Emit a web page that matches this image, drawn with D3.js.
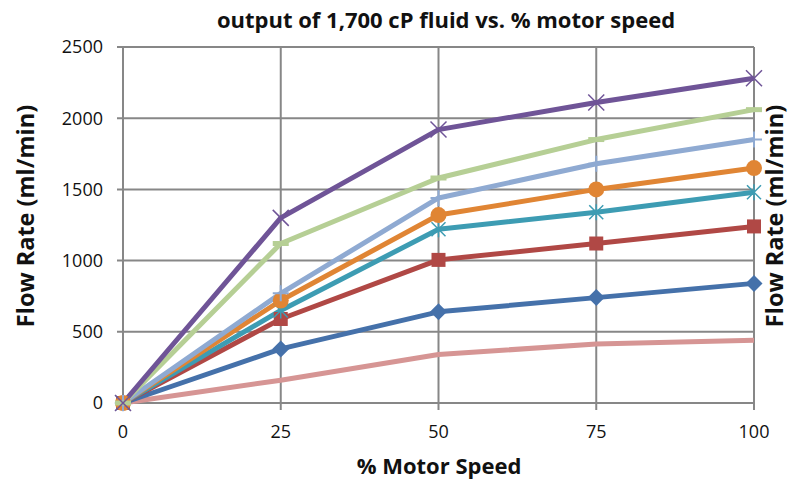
<!DOCTYPE html>
<html>
<head>
<meta charset="utf-8">
<script src="https://cdn.jsdelivr.net/npm/d3@7"></script>
<style>
  body { margin: 0; background: #fff; }
  svg { display: block; }
  text { font-family: "Open Sans", sans-serif; }
</style>
</head>
<body>
<script>
const speeds = [0, 25, 50, 75, 100]
const yTicks = [0, 500, 1000, 1500, 2000, 2500]

// flow rate (ml/min) per series
const pinkFlow = [0, 160, 340, 415, 440]
const blueFlow = [0, 380, 640, 740, 840]
const redFlow = [0, 590, 1005, 1120, 1240]
const tealFlow = [0, 650, 1220, 1340, 1480]
const orangeFlow = [0, 720, 1320, 1500, 1650]
const lightBlueFlow = [0, 770, 1440, 1680, 1850]
const greenFlow = [0, 1120, 1580, 1850, 2060]
const purpleFlow = [0, 1300, 1920, 2110, 2280]

const series = [
  { values: pinkFlow, color: '#d69594', marker: 'none' },
  { values: blueFlow, color: '#4571aa', marker: 'diamond' },
  { values: redFlow, color: '#b04845', marker: 'square' },
  { values: tealFlow, color: '#3d9cb3', marker: 'star' },
  { values: orangeFlow, color: '#e08534', marker: 'circle' },
  { values: lightBlueFlow, color: '#8faad2', marker: 'plus' },
  { values: greenFlow, color: '#b6cf95', marker: 'dash' },
  { values: purpleFlow, color: '#6f5497', marker: 'x' }
]

const W = 789, H = 483
const margin = { top: 47, right: 35, bottom: 80, left: 123 }

const svg = d3.select('body').append('svg')
  .attr('width', W)
  .attr('height', H)

const x = d3.scaleLinear().domain([0, 100]).range([margin.left, W - margin.right])
const y = d3.scaleLinear().domain([0, 2500]).range([H - margin.bottom, margin.top])

const gridColor = '#878787'

// grid
svg.append('g')
  .selectAll('line.h')
  .data(yTicks)
  .join('line')
  .attr('x1', x(0) - 6).attr('x2', x(100))
  .attr('y1', d => y(d)).attr('y2', d => y(d))
  .attr('stroke', gridColor).attr('stroke-width', 2)

svg.append('g')
  .selectAll('line.v')
  .data(speeds)
  .join('line')
  .attr('x1', d => x(d)).attr('x2', d => x(d))
  .attr('y1', y(2500)).attr('y2', y(0) + 7)
  .attr('stroke', gridColor).attr('stroke-width', 2)

// tick labels
svg.append('g')
  .selectAll('text')
  .data(yTicks)
  .join('text')
  .attr('x', x(0) - 20)
  .attr('y', d => y(d))
  .attr('dy', '0.36em')
  .attr('text-anchor', 'end')
  .attr('font-size', 18)
  .attr('fill', '#111')
  .text(d => d)

svg.append('g')
  .selectAll('text')
  .data(speeds)
  .join('text')
  .attr('x', d => x(d))
  .attr('y', 438)
  .attr('text-anchor', 'middle')
  .attr('font-size', 18)
  .attr('fill', '#111')
  .text(d => d)

// lines
const line = d3.line()
  .x((d, i) => x(speeds[i]))
  .y(d => y(d))

svg.append('g')
  .selectAll('path')
  .data(series)
  .join('path')
  .attr('d', d => line(d.values))
  .attr('fill', 'none')
  .attr('stroke', d => d.color)
  .attr('stroke-width', 5)
  .attr('stroke-linejoin', 'round')

// markers
function drawMarker(g, type, color) {
  if (type === 'diamond') {
    g.append('path').attr('d', 'M0,-8.5L8.5,0L0,8.5L-8.5,0Z').attr('fill', color)
  } else if (type === 'square') {
    g.append('rect').attr('x', -7).attr('y', -7).attr('width', 14).attr('height', 14).attr('fill', color)
  } else if (type === 'circle') {
    g.append('circle').attr('r', 8).attr('fill', color)
  } else if (type === 'star') {
    g.append('path').attr('d', 'M-7,-7L7,7M-7,7L7,-7M0,-8L0,8')
      .attr('stroke', color).attr('stroke-width', 1.5)
  } else if (type === 'plus') {
    g.append('path').attr('d', 'M-8,0L8,0M0,-8L0,8')
      .attr('stroke', color).attr('stroke-width', 2)
  } else if (type === 'dash') {
    g.append('path').attr('d', 'M-8,0L8,0')
      .attr('stroke', color).attr('stroke-width', 5)
  } else if (type === 'x') {
    g.append('path').attr('d', 'M-8,-8L8,8M-8,8L8,-8')
      .attr('stroke', color).attr('stroke-width', 1.5)
  }
}

series.forEach(s => {
  if (s.marker === 'none') return
  s.values.forEach((v, i) => {
    const g = svg.append('g').attr('transform', `translate(${x(speeds[i])},${y(v)})`)
    drawMarker(g, s.marker, s.color)
  })
})

// titles
svg.append('text')
  .attr('x', 446).attr('y', 28)
  .attr('text-anchor', 'middle')
  .attr('font-size', 22)
  .attr('font-weight', 'bold')
  .attr('fill', '#111')
  .text('output of 1,700 cP fluid vs. % motor speed')

svg.append('text')
  .attr('x', 439).attr('y', 474)
  .attr('text-anchor', 'middle')
  .attr('font-size', 22)
  .attr('font-weight', 'bold')
  .attr('fill', '#111')
  .text('% Motor Speed')

svg.append('text')
  .attr('transform', 'translate(34,216) rotate(-90)')
  .attr('text-anchor', 'middle')
  .attr('font-size', 23.5)
  .attr('font-weight', 'bold')
  .attr('fill', '#111')
  .text('Flow Rate (ml/min)')

svg.append('text')
  .attr('transform', 'translate(783,216) rotate(-90)')
  .attr('text-anchor', 'middle')
  .attr('font-size', 23.5)
  .attr('font-weight', 'bold')
  .attr('fill', '#111')
  .text('Flow Rate (ml/min)')
</script>
</body>
</html>
